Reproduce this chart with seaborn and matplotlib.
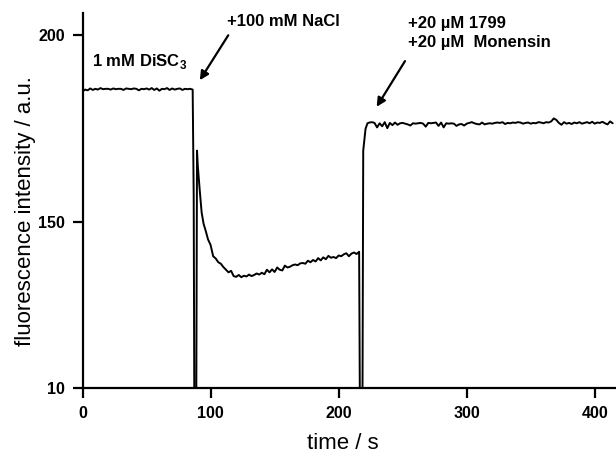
import seaborn as sns
import matplotlib.pyplot as plt
import pandas as pd

# fluorescence trace (s, a.u.)
time_rest = [0, 2, 4, 6, 8, 10, 12, 14, 16, 18,
             20, 22, 24, 26, 28, 30, 32, 34, 36, 38,
             40, 42, 44, 46, 48, 50, 52, 54, 56, 58,
             60, 62, 64, 66, 68, 70, 72, 74, 76, 78,
             80, 82, 84, 86]
fluor_rest = [184.8, 185.3, 185.1, 185.6, 185.2, 185.5, 185.3, 185.7, 185.4, 185.5,
              185.5, 185.3, 185.6, 185.4, 185.5, 185.5, 185.2, 185.6, 185.5, 185.4,
              185.6, 185.5, 185.1, 185.5, 185.4, 185.6, 185.3, 185.7, 185.2, 185.6,
              185.0, 185.5, 185.4, 185.7, 185.2, 185.6, 185.3, 185.5, 185.6, 185.2,
              185.5, 185.4, 185.5, 185.3]

# NaCl addition: lid opened (signal drops off-scale), then decay
time_nacl = [86.8, 87.3, 88.8, 89.4, 90, 91.5, 93, 94.5, 96, 98,
             100, 102, 104, 106, 108, 110, 112, 114, 116, 118,
             120, 122, 124, 126, 128, 130, 132, 134, 136, 138,
             140, 142, 144, 146, 148, 150, 152, 154, 156, 158,
             160, 162, 164, 166, 168, 170, 172, 174, 176, 178,
             180, 182, 184, 186, 188, 190, 192, 194, 196, 198,
             200, 202, 204, 206, 208, 210, 212, 214, 216]
fluor_nacl = [157.0, 100.0, 100.0, 169.0, 165.0, 158.5, 152.5, 149.5, 147.8, 145.3,
              143.8, 140.8, 140.2, 139.2, 138.8, 137.9, 137.2, 136.5, 136.9, 135.5,
              135.3, 135.8, 135.2, 135.6, 135.4, 135.9, 135.5, 135.8, 136.2, 135.9,
              136.4, 136.0, 137.2, 136.5, 137.3, 136.6, 137.8, 137.2, 137.0, 138.3,
              137.8, 138.0, 138.4, 138.6, 138.4, 138.9, 139.0, 138.8, 139.6, 139.2,
              139.8, 139.4, 140.3, 139.7, 140.5, 140.0, 140.9, 140.4, 140.6, 140.3,
              141.0, 140.8, 141.3, 141.6, 140.8, 141.5, 141.8, 141.4, 142.0]

# 1799 + monensin addition
time_mon = [216.6, 218.6, 219.2, 221, 222.5,
            224, 226, 228, 230, 232, 234, 236, 238, 240, 242,
            244, 246, 248, 250, 252, 254, 256, 258, 260, 262,
            264, 266, 268, 270, 272, 274, 276, 278, 280, 282,
            284, 286, 288, 290, 292, 294, 296, 298, 300, 302,
            304, 306, 308, 310, 312, 314, 316, 318, 320, 322,
            324, 326, 328, 330, 332, 334, 336, 338, 340, 342,
            344, 346, 348, 350, 352, 354, 356, 358, 360, 362,
            364, 366, 368, 370, 372, 374, 376, 378, 380, 382,
            384, 386, 388, 390, 392, 394, 396, 398, 400, 402,
            404, 406, 408, 410, 412, 414]
fluor_mon = [100.0, 100.0, 169.0, 174.8, 176.3,
             176.5, 176.6, 176.4, 175.2, 176.3, 175.5, 176.6, 175.0, 176.4, 175.8,
             176.5, 175.9, 176.3, 176.4, 176.2, 176.0, 175.7, 176.3, 176.2, 176.3,
             176.4, 176.2, 175.4, 176.4, 176.3, 176.4, 176.5, 175.6, 176.5, 175.2,
             176.3, 176.2, 176.3, 176.2, 175.6, 176.0, 176.1, 175.7, 176.2, 176.4,
             176.6, 176.3, 176.1, 176.0, 176.5, 176.0, 176.2, 176.3, 176.2, 176.4,
             176.5, 176.4, 176.6, 176.1, 176.4, 176.3, 176.5, 176.4, 176.6, 176.5,
             176.2, 176.4, 176.5, 176.2, 176.4, 176.3, 176.6, 176.5, 176.3, 176.6,
             176.5, 176.8, 177.6, 177.2, 176.4, 175.9, 176.6, 176.2, 176.4, 176.1,
             176.5, 176.3, 176.6, 176.2, 176.4, 176.6, 176.3, 176.7, 176.2, 176.5,
             176.4, 176.7, 176.3, 176.0, 176.8, 176.3]

x_ticks = [0, 100, 200, 300, 400]
y_ticks = [105.5, 150, 200]
y_tick_labels = ['10', '150', '200']

df = pd.DataFrame({'time': time_rest + time_nacl + time_mon,
                   'fluor': fluor_rest + fluor_nacl + fluor_mon})

sns.set_theme(style='ticks')
plt.rcParams['font.family'] = ['Liberation Sans', 'DejaVu Sans']
plt.rcParams['text.color'] = 'black'
plt.rcParams['mathtext.fontset'] = 'custom'
plt.rcParams['mathtext.rm'] = 'Liberation Sans'
plt.rcParams['mathtext.bf'] = 'Liberation Sans:bold'

fig = plt.figure(figsize=(6.16, 4.57), dpi=100)
ax = fig.add_axes([0.134, 0.150, 0.866, 0.822])

sns.lineplot(data=df, x='time', y='fluor', color='black', lw=1.4, ax=ax)

ax.set_xlim(0, 416.6)
ax.set_ylim(105.5, 205.8)
ax.set_xticks(x_ticks)
ax.set_yticks(y_ticks)
ax.set_yticklabels(y_tick_labels)
for lab in ax.get_xticklabels() + ax.get_yticklabels():
    lab.set_fontweight('bold')
ax.tick_params(axis='both', direction='out', length=7.5, width=1.6,
               labelsize=11.5, color='black', labelcolor='black', pad=5)

sns.despine(ax=ax)
for s in ['left', 'bottom']:
    ax.spines[s].set_linewidth(1.6)
    ax.spines[s].set_color('black')

ax.set_xlabel('time / s', fontsize=16, color='black')
ax.set_ylabel('fluorescence intensity / a.u.', fontsize=16, color='black')
ax.xaxis.set_label_coords(0.487, -0.118)
ax.yaxis.set_label_coords(-0.087, 0.472)

# annotations
ax.text(7.3, 192.7, r'1 mM DiSC$_\mathbf{3}$', fontsize=12, fontweight='bold', va='center')
arrow = dict(arrowstyle='-|>', color='black', lw=1.6, mutation_scale=13, shrinkA=0, shrinkB=0)
ax.annotate('', xy=(91.6, 187.8), xytext=(113.8, 199.8), arrowprops=arrow)
ax.text(112.5, 203.6, '+100 mM NaCl', fontsize=12, fontweight='bold', va='center')
ax.annotate('', xy=(229.7, 180.7), xytext=(251.8, 192.9), arrowprops=arrow)
ax.text(254.1, 202.9, '+20 µM 1799', fontsize=12, fontweight='bold', va='center')
ax.text(254.1, 197.8, '+20 µM  Monensin', fontsize=12, fontweight='bold', va='center')

fig.savefig('out.png', dpi=100)
